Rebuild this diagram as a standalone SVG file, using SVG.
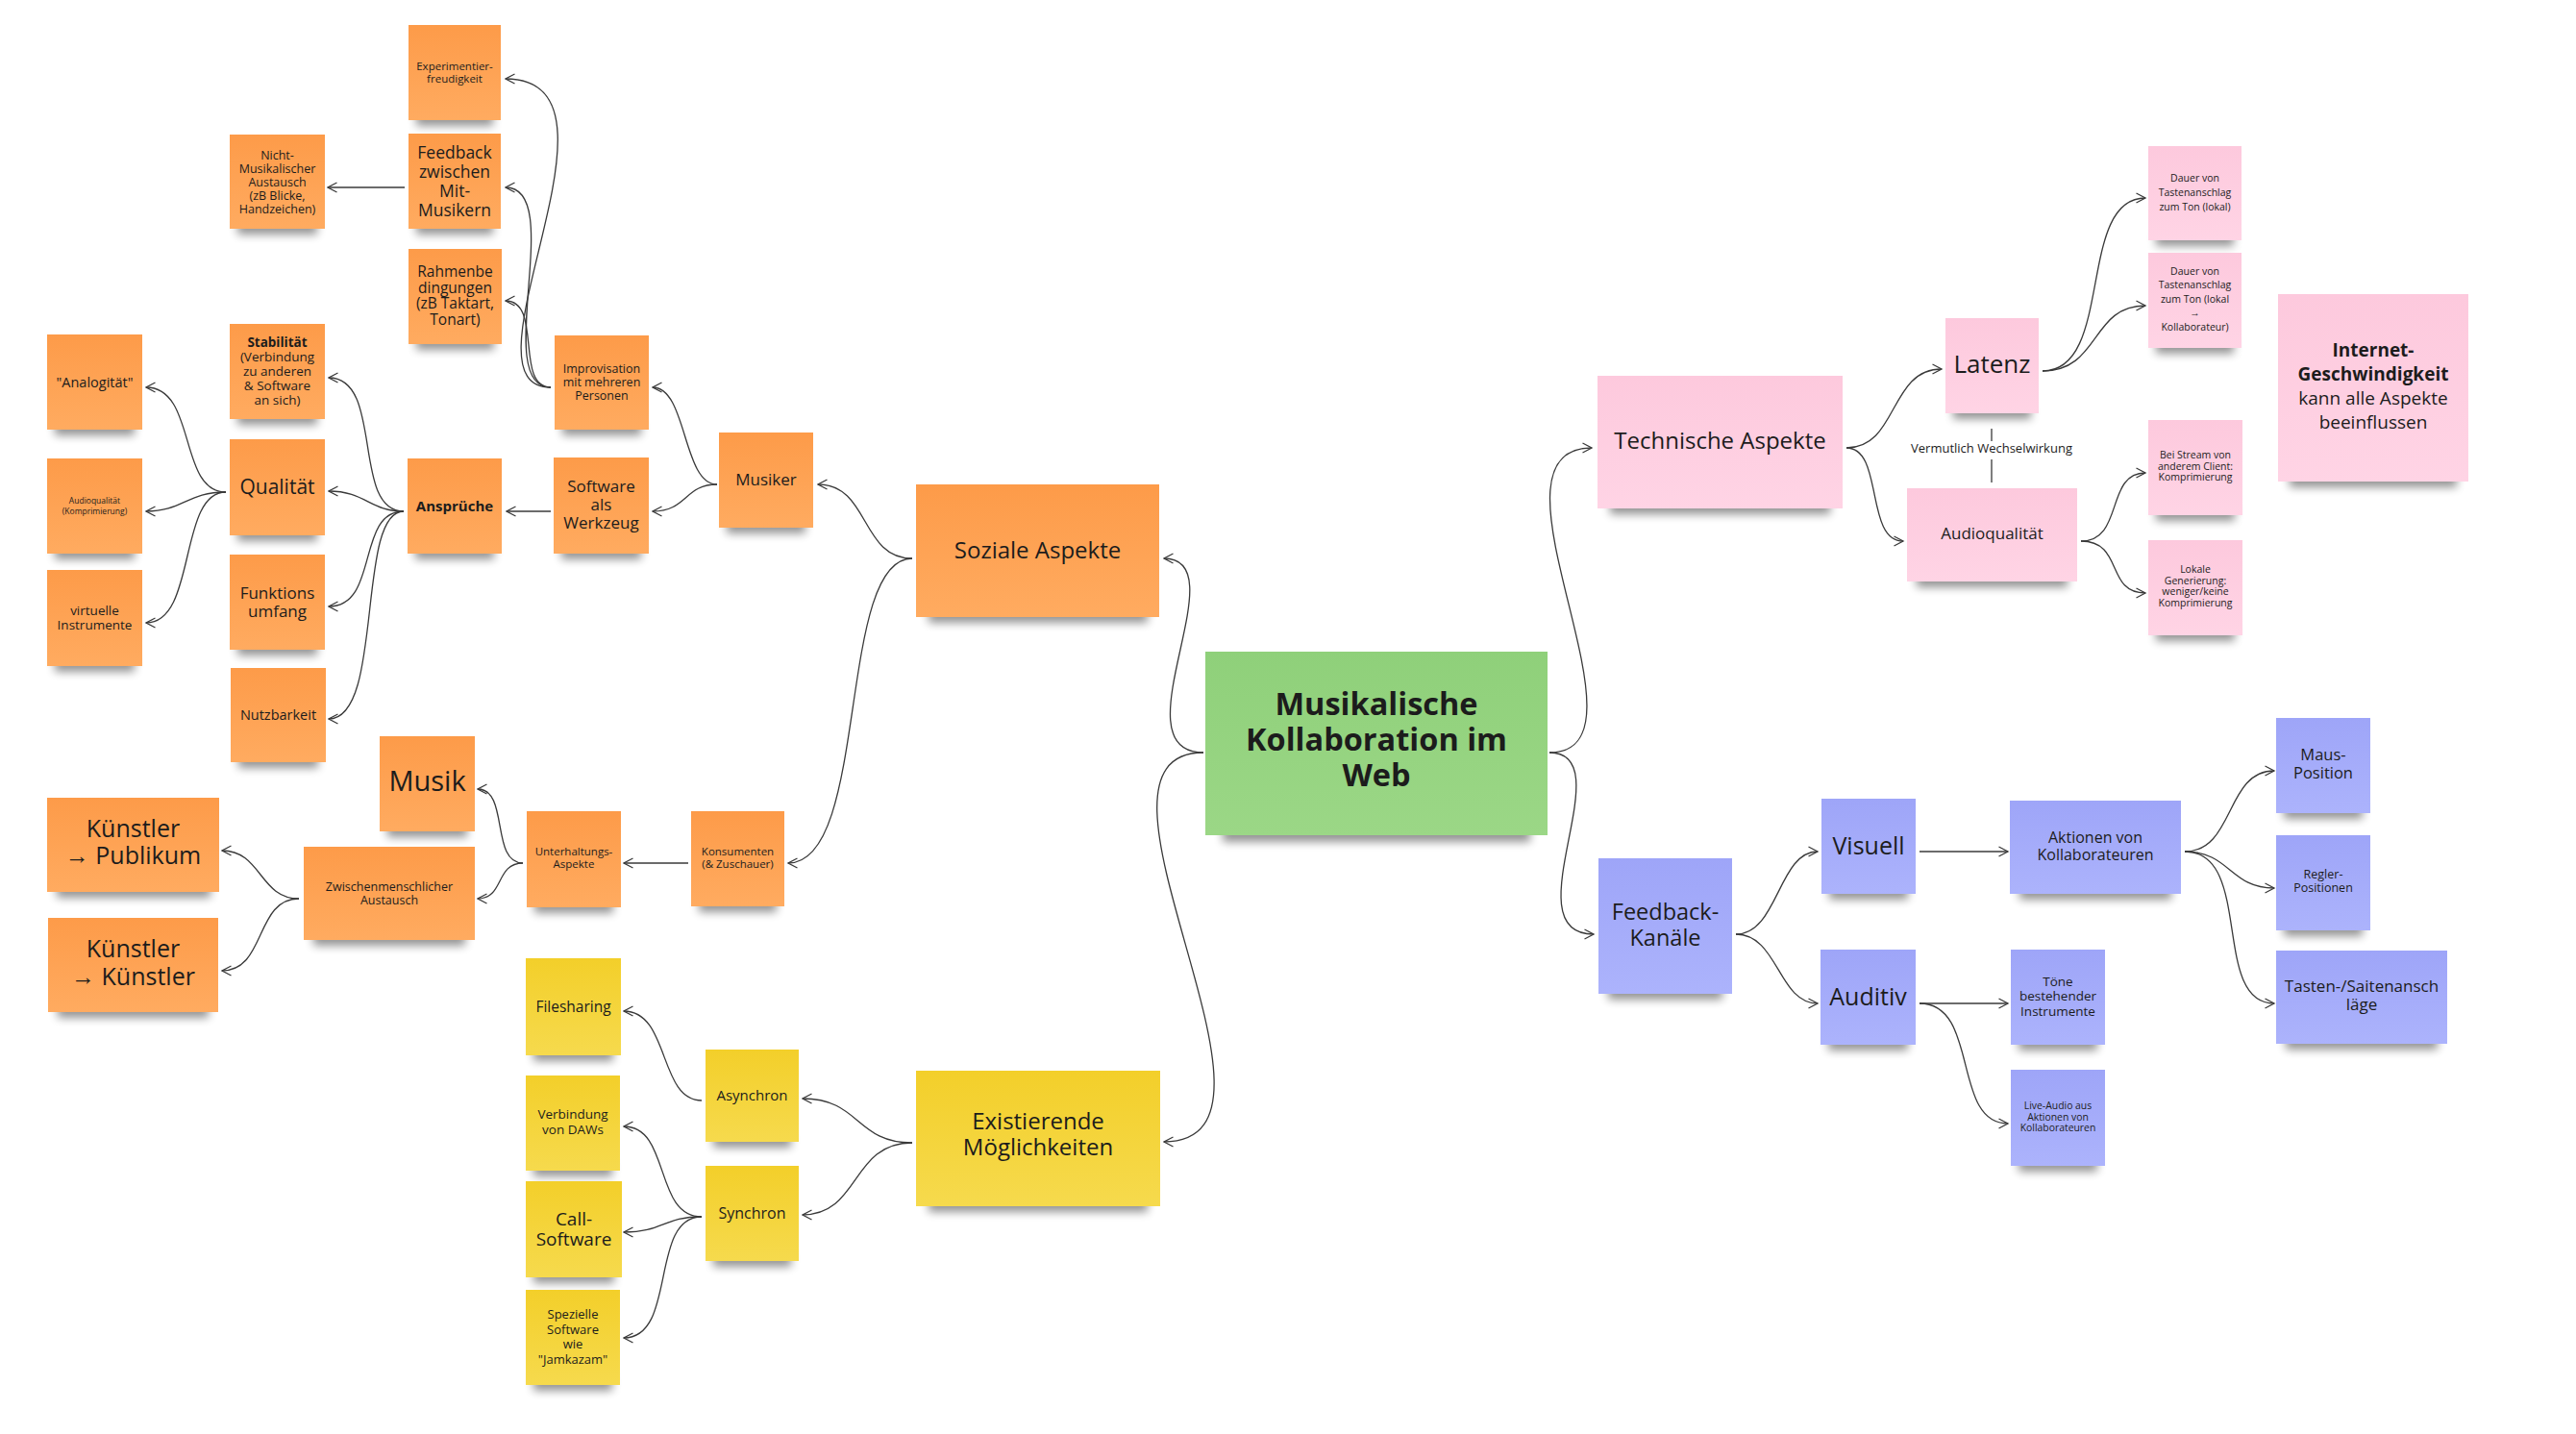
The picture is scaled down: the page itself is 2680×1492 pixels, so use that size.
<svg xmlns="http://www.w3.org/2000/svg" width="2680" height="1492" viewBox="0 0 2680 1492">
<style>
  .t { font-family: 'Open Sans', 'Noto Sans', 'Liberation Sans', sans-serif; fill: #1c1c1c; text-anchor: middle; }
  .b { font-weight: 700; }
  .sh { fill: #000; opacity: 0.42; filter: url(#blur); }
  .orange .body { fill: url(#gOrange); }
  .yellow .body { fill: url(#gYellow); }
  .green .body { fill: url(#gGreen); }
  .pink .body { fill: url(#gPink); }
  .blue .body { fill: url(#gBlue); }
  .edge { fill: none; stroke: #3a3a3a; stroke-width: 1.3; marker-end: url(#arrow); }
  .plain { fill: none; stroke: #3a3a3a; stroke-width: 1.3; }
</style>
<defs>
  <filter id="blur" x="-20%" y="-100%" width="140%" height="300%">
    <feGaussianBlur stdDeviation="5"/>
  </filter>
  <linearGradient id="gOrange" x1="0" y1="0" x2="0" y2="1">
    <stop offset="0" stop-color="#fd9b49"/><stop offset="1" stop-color="#ffab60"/>
  </linearGradient>
  <linearGradient id="gYellow" x1="0" y1="0" x2="0" y2="1">
    <stop offset="0" stop-color="#f3cf2a"/><stop offset="1" stop-color="#f6da4d"/>
  </linearGradient>
  <linearGradient id="gGreen" x1="0" y1="0" x2="0" y2="1">
    <stop offset="0" stop-color="#8fd07a"/><stop offset="1" stop-color="#9bd786"/>
  </linearGradient>
  <linearGradient id="gPink" x1="0" y1="0" x2="0" y2="1">
    <stop offset="0" stop-color="#fdc9dd"/><stop offset="1" stop-color="#ffd4e5"/>
  </linearGradient>
  <linearGradient id="gBlue" x1="0" y1="0" x2="0" y2="1">
    <stop offset="0" stop-color="#9ea5f8"/><stop offset="1" stop-color="#acb3fc"/>
  </linearGradient>
  <marker id="arrow" viewBox="0 0 12 12" refX="10.5" refY="6" markerWidth="12" markerHeight="12" markerUnits="userSpaceOnUse" orient="auto">
    <path d="M1,1 L10.5,6 L1,11" fill="none" stroke="#3a3a3a" stroke-width="1.3"/>
  </marker>
</defs>

<rect width="2680" height="1492" fill="#ffffff"/>

<!-- connectors -->
<g id="connectors">
  <path class="edge" d="M1252,783 C1160,783 1290,581 1211,581"/>
  <path class="edge" d="M1252,783 C1100,783 1370,1188 1211,1188"/>
  <path class="edge" d="M1612,783 C1730,783 1530,466 1656,466"/>
  <path class="edge" d="M1612,783 C1690,783 1570,972 1658,972"/>
  <path class="edge" d="M949,581 C895,581 905,504 851,504"/>
  <path class="edge" d="M949,581 C870,581 905,898 820,898"/>
  <path class="edge" d="M746,504 C710,504 715,403 679,403"/>
  <path class="edge" d="M746,504 C712,504 715,532 679,532"/>
  <path class="edge" d="M573,532 L527,532"/>
  <path class="edge" d="M573,403 C470,403 670,82 526,82"/>
  <path class="edge" d="M573,403 C510,403 590,195 526,195"/>
  <path class="edge" d="M573,403 C535,403 565,313 526,313"/>
  <path class="edge" d="M421,195 L341,195"/>
  <path class="edge" d="M420,532 C365,532 400,393 342,393"/>
  <path class="edge" d="M420,532 C385,532 380,511 342,511"/>
  <path class="edge" d="M420,532 C370,532 395,631 342,631"/>
  <path class="edge" d="M420,532 C370,532 400,748 342,748"/>
  <path class="edge" d="M235,512 C185,512 205,403 152,403"/>
  <path class="edge" d="M235,512 C195,512 190,532 152,532"/>
  <path class="edge" d="M235,512 C185,512 205,648 152,648"/>
  <path class="edge" d="M716,898 L649,898"/>
  <path class="edge" d="M544,898 C510,898 530,821 497,821"/>
  <path class="edge" d="M544,898 C515,898 525,935 497,935"/>
  <path class="edge" d="M311,935 C270,935 272,885 231,885"/>
  <path class="edge" d="M311,935 C265,935 277,1010 231,1010"/>
  <path class="edge" d="M949,1189 C890,1189 895,1143 835,1143"/>
  <path class="edge" d="M949,1189 C885,1189 895,1264 835,1264"/>
  <path class="edge" d="M730,1145 C685,1145 697,1052 649,1052"/>
  <path class="edge" d="M730,1266 C680,1266 698,1172 649,1172"/>
  <path class="edge" d="M730,1266 C690,1266 690,1282 649,1282"/>
  <path class="edge" d="M730,1266 C675,1266 705,1392 649,1392"/>
  <path class="edge" d="M1921,466 C1975,466 1965,384 2020,384"/>
  <path class="edge" d="M1921,466 C1960,466 1940,563 1980,563"/>
  <path class="edge" d="M2125,386 C2200,386 2160,206 2232,206"/>
  <path class="edge" d="M2125,386 C2185,386 2175,318 2232,318"/>
  <path class="edge" d="M2165,563 C2210,563 2190,492 2232,492"/>
  <path class="edge" d="M2165,563 C2210,563 2190,617 2232,617"/>
  <path class="edge" d="M1806,972 C1850,972 1850,886 1891,886"/>
  <path class="edge" d="M1806,972 C1850,972 1850,1044 1891,1044"/>
  <path class="edge" d="M1997,886 L2089,886"/>
  <path class="edge" d="M1997,1044 L2089,1044"/>
  <path class="edge" d="M1997,1044 C2060,1044 2030,1169 2089,1169"/>
  <path class="edge" d="M2273,886 C2325,886 2315,802 2366,802"/>
  <path class="edge" d="M2273,886 C2320,886 2320,924 2366,924"/>
  <path class="edge" d="M2273,886 C2345,886 2300,1044 2366,1044"/>
  <!-- relation between Latenz and Audioqualität -->
  <path class="plain" d="M2072,446 L2072,459 M2072,478 L2072,502"/>
  <text class="t" x="2072" y="471" font-size="13">Vermutlich Wechselwirkung</text>
</g>

<!-- Soziale Aspekte (orange) -->
<g id="n-experimentier" class="orange">
  <rect class="sh" x="433" y="115" width="80" height="16"/>
  <rect class="body" x="425" y="26" width="96" height="99"/>
  <text class="t" font-size="11.5"><tspan x="473" y="73">Experimentier-</tspan><tspan x="473" y="86">freudigkeit</tspan></text>
</g>
<g id="n-feedback-mit" class="orange">
  <rect class="sh" x="433" y="228" width="80" height="16"/>
  <rect class="body" x="425" y="139" width="96" height="99"/>
  <text class="t" font-size="17.5"><tspan x="473" y="165">Feedback</tspan><tspan x="473" y="185">zwischen</tspan><tspan x="473" y="205">Mit-</tspan><tspan x="473" y="225">Musikern</tspan></text>
</g>
<g id="n-nicht-musikalisch" class="orange">
  <rect class="sh" x="247" y="228" width="83" height="16"/>
  <rect class="body" x="239" y="140" width="99" height="98"/>
  <text class="t" font-size="12.5"><tspan x="288.5" y="165.5">Nicht-</tspan><tspan x="288.5" y="179.5">Musikalischer</tspan><tspan x="288.5" y="193.5">Austausch</tspan><tspan x="288.5" y="207.5">(zB Blicke,</tspan><tspan x="288.5" y="221.5">Handzeichen)</tspan></text>
</g>
<g id="n-rahmen" class="orange">
  <rect class="sh" x="433" y="348" width="81" height="16"/>
  <rect class="body" x="425" y="259" width="97" height="99"/>
  <text class="t" font-size="15.5"><tspan x="473.5" y="288">Rahmenbe</tspan><tspan x="473.5" y="304.7">dingungen</tspan><tspan x="473.5" y="321.4">(zB Taktart,</tspan><tspan x="473.5" y="338">Tonart)</tspan></text>
</g>
<g id="n-improvisation" class="orange">
  <rect class="sh" x="585" y="437" width="82" height="16"/>
  <rect class="body" x="577" y="349" width="98" height="98"/>
  <text class="t" font-size="12.5"><tspan x="626" y="388">Improvisation</tspan><tspan x="626" y="402">mit mehreren</tspan><tspan x="626" y="416">Personen</tspan></text>
</g>
<g id="n-stabilitaet" class="orange">
  <rect class="sh" x="247" y="426" width="83" height="16"/>
  <rect class="body" x="239" y="337" width="99" height="99"/>
  <text class="t" font-size="13.5"><tspan x="288.5" y="361" class="b">Stabilität</tspan><tspan x="288.5" y="376">(Verbindung</tspan><tspan x="288.5" y="391">zu anderen</tspan><tspan x="288.5" y="406">&amp; Software</tspan><tspan x="288.5" y="421">an sich)</tspan></text>
</g>
<g id="n-analogitaet" class="orange">
  <rect class="sh" x="57" y="437" width="83" height="16"/>
  <rect class="body" x="49" y="348" width="99" height="99"/>
  <text class="t" font-size="14.5" x="98.5" y="402.5">"Analogität"</text>
</g>
<g id="n-qualitaet" class="orange">
  <rect class="sh" x="247" y="547" width="83" height="16"/>
  <rect class="body" x="239" y="457" width="99" height="100"/>
  <text class="t" font-size="21" x="288.5" y="514">Qualität</text>
</g>
<g id="n-ansprueche" class="orange">
  <rect class="sh" x="432" y="566" width="82" height="16"/>
  <rect class="body" x="424" y="477" width="98" height="99"/>
  <text class="t b" font-size="15" x="473" y="531.5">Ansprüche</text>
</g>
<g id="n-software-werkzeug" class="orange">
  <rect class="sh" x="584" y="566" width="83" height="16"/>
  <rect class="body" x="576" y="476" width="99" height="100"/>
  <text class="t" font-size="17"><tspan x="625.5" y="512">Software</tspan><tspan x="625.5" y="531">als</tspan><tspan x="625.5" y="550">Werkzeug</tspan></text>
</g>
<g id="n-musiker" class="orange">
  <rect class="sh" x="756" y="539" width="82" height="16"/>
  <rect class="body" x="748" y="450" width="98" height="99"/>
  <text class="t" font-size="17" x="797" y="505">Musiker</text>
</g>
<g id="n-audioqualitaet-k" class="orange">
  <rect class="sh" x="57" y="566" width="83" height="16"/>
  <rect class="body" x="49" y="477" width="99" height="99"/>
  <text class="t" font-size="8.5"><tspan x="98.5" y="523.5">Audioqualität</tspan><tspan x="98.5" y="534.5">(Komprimierung)</tspan></text>
</g>
<g id="n-virtuelle" class="orange">
  <rect class="sh" x="57" y="683" width="83" height="16"/>
  <rect class="body" x="49" y="593" width="99" height="100"/>
  <text class="t" font-size="13.5"><tspan x="98.5" y="639.5">virtuelle</tspan><tspan x="98.5" y="654.5">Instrumente</tspan></text>
</g>
<g id="n-funktionsumfang" class="orange">
  <rect class="sh" x="247" y="666" width="83" height="16"/>
  <rect class="body" x="239" y="577" width="99" height="99"/>
  <text class="t" font-size="17"><tspan x="288.5" y="622.5">Funktions</tspan><tspan x="288.5" y="642">umfang</tspan></text>
</g>
<g id="n-nutzbarkeit" class="orange">
  <rect class="sh" x="248" y="783" width="83" height="16"/>
  <rect class="body" x="240" y="695" width="99" height="98"/>
  <text class="t" font-size="14.5" x="289.5" y="749">Nutzbarkeit</text>
</g>
<g id="n-musik" class="orange">
  <rect class="sh" x="403" y="855" width="83" height="16"/>
  <rect class="body" x="395" y="766" width="99" height="99"/>
  <text class="t" font-size="29" x="444.5" y="823">Musik</text>
</g>
<g id="n-kuenstler-publikum" class="orange">
  <rect class="sh" x="59" y="918" width="160" height="16"/>
  <rect class="body" x="49" y="830" width="179" height="98"/>
  <text class="t" font-size="25"><tspan x="138.5" y="870.5">Künstler</tspan><tspan x="138.5" y="899">→ Publikum</tspan></text>
</g>
<g id="n-zwischenmenschlich" class="orange">
  <rect class="sh" x="326" y="968" width="158" height="16"/>
  <rect class="body" x="316" y="881" width="178" height="97"/>
  <text class="t" font-size="12.5"><tspan x="405" y="926.5">Zwischenmenschlicher</tspan><tspan x="405" y="940.5">Austausch</tspan></text>
</g>
<g id="n-unterhaltung" class="orange">
  <rect class="sh" x="556" y="934" width="82" height="16"/>
  <rect class="body" x="548" y="844" width="98" height="100"/>
  <text class="t" font-size="11.5"><tspan x="597" y="890">Unterhaltungs-</tspan><tspan x="597" y="903">Aspekte</tspan></text>
</g>
<g id="n-konsumenten" class="orange">
  <rect class="sh" x="727" y="933" width="81" height="16"/>
  <rect class="body" x="719" y="844" width="97" height="99"/>
  <text class="t" font-size="11.5"><tspan x="767.5" y="890">Konsumenten</tspan><tspan x="767.5" y="903">(&amp; Zuschauer)</tspan></text>
</g>
<g id="n-kuenstler-kuenstler" class="orange">
  <rect class="sh" x="60" y="1043" width="157" height="16"/>
  <rect class="body" x="50" y="955" width="177" height="98"/>
  <text class="t" font-size="25"><tspan x="138.5" y="996">Künstler</tspan><tspan x="138.5" y="1024.5">→ Künstler</tspan></text>
</g>
<g id="n-soziale" class="orange">
  <rect class="sh" x="966" y="630" width="228" height="18"/>
  <rect class="body" x="953" y="504" width="253" height="138"/>
  <text class="t" font-size="24" x="1079.5" y="581">Soziale Aspekte</text>
</g>

<!-- Existierende Möglichkeiten (yellow) -->
<g id="n-filesharing" class="yellow">
  <rect class="sh" x="555" y="1088" width="83" height="16"/>
  <rect class="body" x="547" y="997" width="99" height="101"/>
  <text class="t" font-size="15.5" x="596.5" y="1052.5">Filesharing</text>
</g>
<g id="n-asynchron" class="yellow">
  <rect class="sh" x="742" y="1178" width="81" height="16"/>
  <rect class="body" x="734" y="1092" width="97" height="96"/>
  <text class="t" font-size="15" x="782.5" y="1145">Asynchron</text>
</g>
<g id="n-daws" class="yellow">
  <rect class="sh" x="555" y="1208" width="82" height="16"/>
  <rect class="body" x="547" y="1119" width="98" height="99"/>
  <text class="t" font-size="13.5"><tspan x="596" y="1164">Verbindung</tspan><tspan x="596" y="1180">von DAWs</tspan></text>
</g>
<g id="n-synchron" class="yellow">
  <rect class="sh" x="742" y="1302" width="81" height="16"/>
  <rect class="body" x="734" y="1213" width="97" height="99"/>
  <text class="t" font-size="16" x="782.5" y="1268">Synchron</text>
</g>
<g id="n-call" class="yellow">
  <rect class="sh" x="555" y="1319" width="84" height="16"/>
  <rect class="body" x="547" y="1229" width="100" height="100"/>
  <text class="t" font-size="19"><tspan x="597" y="1274.5">Call-</tspan><tspan x="597" y="1295.5">Software</tspan></text>
</g>
<g id="n-spezielle" class="yellow">
  <rect class="sh" x="555" y="1431" width="82" height="16"/>
  <rect class="body" x="547" y="1342" width="98" height="99"/>
  <text class="t" font-size="13"><tspan x="596" y="1372">Spezielle</tspan><tspan x="596" y="1387.5">Software</tspan><tspan x="596" y="1403">wie</tspan><tspan x="596" y="1418.5">"Jamkazam"</tspan></text>
</g>
<g id="n-existierende" class="yellow">
  <rect class="sh" x="966" y="1243" width="228" height="18"/>
  <rect class="body" x="953" y="1114" width="254" height="141"/>
  <text class="t" font-size="24"><tspan x="1080" y="1175">Existierende</tspan><tspan x="1080" y="1201.5">Möglichkeiten</tspan></text>
</g>

<!-- central topic -->
<g id="n-zentrum" class="green">
  <rect class="sh" x="1272" y="856" width="320" height="20"/>
  <rect class="body" x="1254" y="678" width="356" height="191"/>
  <text class="t b" font-size="32.5"><tspan x="1432" y="744">Musikalische</tspan><tspan x="1432" y="781">Kollaboration im</tspan><tspan x="1432" y="818">Web</tspan></text>
</g>

<!-- Technische Aspekte (pink) -->
<g id="n-technische" class="pink">
  <rect class="sh" x="1675" y="517" width="229" height="18"/>
  <rect class="body" x="1662" y="391" width="255" height="138"/>
  <text class="t" font-size="24" x="1789.5" y="467">Technische Aspekte</text>
</g>
<g id="n-latenz" class="pink">
  <rect class="sh" x="2032" y="420" width="81" height="16"/>
  <rect class="body" x="2024" y="331" width="97" height="99"/>
  <text class="t" font-size="26" x="2072.5" y="388">Latenz</text>
</g>
<g id="n-audioqualitaet" class="pink">
  <rect class="sh" x="1994" y="595" width="157" height="16"/>
  <rect class="body" x="1984" y="508" width="177" height="97"/>
  <text class="t" font-size="17" x="2072.5" y="561">Audioqualität</text>
</g>
<g id="n-dauer-lokal" class="pink">
  <rect class="sh" x="2243" y="240" width="81" height="16"/>
  <rect class="body" x="2235" y="152" width="97" height="98"/>
  <text class="t" font-size="10.5"><tspan x="2283.5" y="188.5">Dauer von</tspan><tspan x="2283.5" y="203.5">Tastenanschlag</tspan><tspan x="2283.5" y="218.5">zum Ton (lokal)</tspan></text>
</g>
<g id="n-dauer-kollab" class="pink">
  <rect class="sh" x="2243" y="352" width="81" height="16"/>
  <rect class="body" x="2235" y="263" width="97" height="99"/>
  <text class="t" font-size="10.5"><tspan x="2283.5" y="285.5">Dauer von</tspan><tspan x="2283.5" y="300">Tastenanschlag</tspan><tspan x="2283.5" y="314.5">zum Ton (lokal</tspan><tspan x="2283.5" y="329">→</tspan><tspan x="2283.5" y="343.5">Kollaborateur)</tspan></text>
</g>
<g id="n-stream" class="pink">
  <rect class="sh" x="2243" y="526" width="82" height="16"/>
  <rect class="body" x="2235" y="437" width="98" height="99"/>
  <text class="t" font-size="10.5"><tspan x="2284" y="477">Bei Stream von</tspan><tspan x="2284" y="488.5">anderem Client:</tspan><tspan x="2284" y="500">Komprimierung</tspan></text>
</g>
<g id="n-lokal" class="pink">
  <rect class="sh" x="2243" y="651" width="82" height="16"/>
  <rect class="body" x="2235" y="562" width="98" height="99"/>
  <text class="t" font-size="10.5"><tspan x="2284" y="596">Lokale</tspan><tspan x="2284" y="607.5">Generierung:</tspan><tspan x="2284" y="619">weniger/keine</tspan><tspan x="2284" y="630.5">Komprimierung</tspan></text>
</g>
<g id="n-internet" class="pink">
  <rect class="sh" x="2382" y="489" width="174" height="18"/>
  <rect class="body" x="2370" y="306" width="198" height="195"/>
  <text class="t" font-size="19"><tspan x="2469" y="371" class="b">Internet-</tspan><tspan x="2469" y="396" class="b">Geschwindigkeit</tspan><tspan x="2469" y="421">kann alle Aspekte</tspan><tspan x="2469" y="446">beeinflussen</tspan></text>
</g>

<!-- Feedback-Kanäle (blue) -->
<g id="n-feedback-kanaele" class="blue">
  <rect class="sh" x="1673" y="1022" width="119" height="18"/>
  <rect class="body" x="1663" y="893" width="139" height="141"/>
  <text class="t" font-size="23.5"><tspan x="1732.5" y="957">Feedback-</tspan><tspan x="1732.5" y="984">Kanäle</tspan></text>
</g>
<g id="n-visuell" class="blue">
  <rect class="sh" x="1903" y="920" width="82" height="16"/>
  <rect class="body" x="1895" y="831" width="98" height="99"/>
  <text class="t" font-size="25" x="1944" y="889">Visuell</text>
</g>
<g id="n-auditiv" class="blue">
  <rect class="sh" x="1902" y="1077" width="83" height="16"/>
  <rect class="body" x="1894" y="988" width="99" height="99"/>
  <text class="t" font-size="25" x="1943.5" y="1045.5">Auditiv</text>
</g>
<g id="n-aktionen" class="blue">
  <rect class="sh" x="2101" y="920" width="158" height="16"/>
  <rect class="body" x="2091" y="833" width="178" height="97"/>
  <text class="t" font-size="16"><tspan x="2180" y="877">Aktionen von</tspan><tspan x="2180" y="895">Kollaborateuren</tspan></text>
</g>
<g id="n-toene" class="blue">
  <rect class="sh" x="2100" y="1077" width="82" height="16"/>
  <rect class="body" x="2092" y="988" width="98" height="99"/>
  <text class="t" font-size="13.5"><tspan x="2141" y="1025.5">Töne</tspan><tspan x="2141" y="1041">bestehender</tspan><tspan x="2141" y="1056.5">Instrumente</tspan></text>
</g>
<g id="n-live-audio" class="blue">
  <rect class="sh" x="2100" y="1203" width="82" height="16"/>
  <rect class="body" x="2092" y="1113" width="98" height="100"/>
  <text class="t" font-size="10.4"><tspan x="2141" y="1154">Live-Audio aus</tspan><tspan x="2141" y="1165.5">Aktionen von</tspan><tspan x="2141" y="1177">Kollaborateuren</tspan></text>
</g>
<g id="n-maus" class="blue">
  <rect class="sh" x="2376" y="836" width="82" height="16"/>
  <rect class="body" x="2368" y="747" width="98" height="99"/>
  <text class="t" font-size="16.5"><tspan x="2417" y="791">Maus-</tspan><tspan x="2417" y="810">Position</tspan></text>
</g>
<g id="n-regler" class="blue">
  <rect class="sh" x="2376" y="958" width="82" height="16"/>
  <rect class="body" x="2368" y="869" width="98" height="99"/>
  <text class="t" font-size="12.5"><tspan x="2417" y="914">Regler-</tspan><tspan x="2417" y="928">Positionen</tspan></text>
</g>
<g id="n-tasten" class="blue">
  <rect class="sh" x="2378" y="1076" width="158" height="16"/>
  <rect class="body" x="2368" y="989" width="178" height="97"/>
  <text class="t" font-size="17"><tspan x="2457" y="1032">Tasten-/Saitenansch</tspan><tspan x="2457" y="1051">läge</tspan></text>
</g>
</svg>
